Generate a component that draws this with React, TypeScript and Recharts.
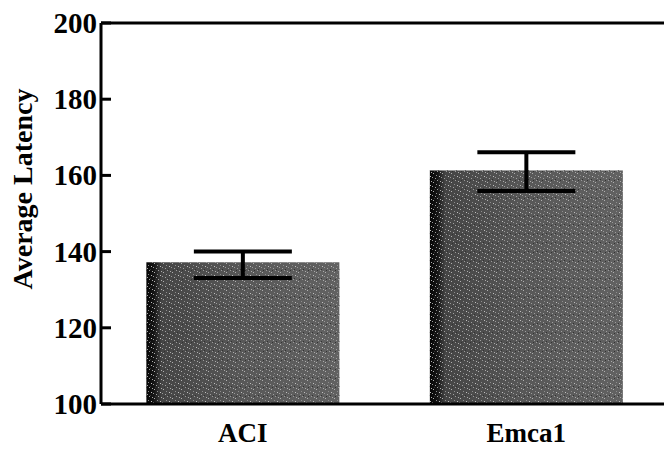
import { BarChart, Bar, XAxis, YAxis, ErrorBar, ReferenceLine } from "recharts"

const groups = ["ACI", "Emca1"]
const latency = [137.2, 161.3]
const errBelow = [4.1, 5.4]
const errAbove = [2.8, 4.8]
const yTicks = [100, 120, 140, 160, 180, 200]

const chartData = groups.map((g, i) => ({
  group: g,
  latency: latency[i],
  err: [errBelow[i], errAbove[i]],
}))

const serif = "'Times New Roman', 'Liberation Serif', 'DejaVu Serif', serif"

function YTick(props: any) {
  const { x, y, payload } = props
  return (
    <g>
      <line x1={x} y1={y} x2={x + 10} y2={y} stroke="#000" strokeWidth={3} />
      <text
        x={x - 4}
        y={y}
        textAnchor="end"
        dominantBaseline="central"
        fontFamily={serif}
        fontWeight={700}
        fontSize={29}
        fill="#000"
      >
        {payload.value}
      </text>
    </g>
  )
}

function XTick(props: any) {
  const { x, y, payload } = props
  return (
    <text x={x} y={y + 38} textAnchor="middle" fontFamily={serif} fontWeight={700} fontSize={27} fill="#000">
      {payload.value}
    </text>
  )
}

// grey bar with a darker left edge and a light speckle, like the scanned halftone
function TexturedBar(props: any) {
  const { x, y, width, height } = props
  return (
    <g>
      <rect x={x} y={y} width={width} height={height} fill="url(#barFill)" />
      <rect x={x} y={y} width={width} height={height} fill="url(#speckle)" />
    </g>
  )
}

export default function App() {
  return (
    <div style={{ position: "absolute", left: 0, top: 0, width: 664, height: 449, overflow: "hidden", background: "#fff" }}>
      <BarChart
        width={680}
        height={449}
        data={chartData}
        margin={{ top: 23, right: 12, left: 61, bottom: 0 }}
        barCategoryGap="16%"
      >
        <defs>
          <linearGradient id="barFill" x1="0" y1="0" x2="1" y2="0">
            <stop offset="0%" stopColor="#050505" />
            <stop offset="4%" stopColor="#151515" />
            <stop offset="8%" stopColor="#454545" />
            <stop offset="50%" stopColor="#585858" />
            <stop offset="100%" stopColor="#626262" />
          </linearGradient>
          <pattern id="speckle" width="9" height="9" patternUnits="userSpaceOnUse">
            <rect x="1" y="2" width="1" height="1" fill="#b0b0b0" />
            <rect x="5" y="0" width="1" height="1" fill="#9a9a9a" />
            <rect x="7" y="5" width="1" height="1" fill="#c0c0c0" />
            <rect x="3" y="7" width="1" height="1" fill="#a0a0a0" />
            <rect x="4" y="4" width="1" height="1" fill="#8c8c8c" />
            <rect x="0" y="6" width="1" height="1" fill="#999" />
            <rect x="8" y="1" width="1" height="1" fill="#aaa" />
            <rect x="2" y="0" width="1" height="1" fill="#333" />
            <rect x="6" y="8" width="1" height="1" fill="#333" />
          </pattern>
        </defs>
        <XAxis
          dataKey="group"
          height={45}
          axisLine={{ stroke: "#000", strokeWidth: 3 }}
          tickLine={false}
          tickSize={0}
          tickMargin={0}
          tick={<XTick />}
        />
        <YAxis
          domain={[100, 200]}
          ticks={yTicks}
          allowDataOverflow
          width={40}
          axisLine={{ stroke: "#000", strokeWidth: 3 }}
          tickLine={false}
          tickSize={0}
          tickMargin={0}
          tick={<YTick />}
        />
        <ReferenceLine y={200} stroke="#000" strokeWidth={3} />
        <Bar dataKey="latency" shape={<TexturedBar />} isAnimationActive={false}>
          <ErrorBar dataKey="err" width={49} stroke="#000" strokeWidth={4} />
        </Bar>
        <text
          x={22}
          y={189}
          transform="rotate(-90 22 189)"
          textAnchor="middle"
          dominantBaseline="central"
          fontFamily={serif}
          fontWeight={700}
          fontSize={28}
          fill="#000"
        >
          Average Latency
        </text>
      </BarChart>
    </div>
  )
}
